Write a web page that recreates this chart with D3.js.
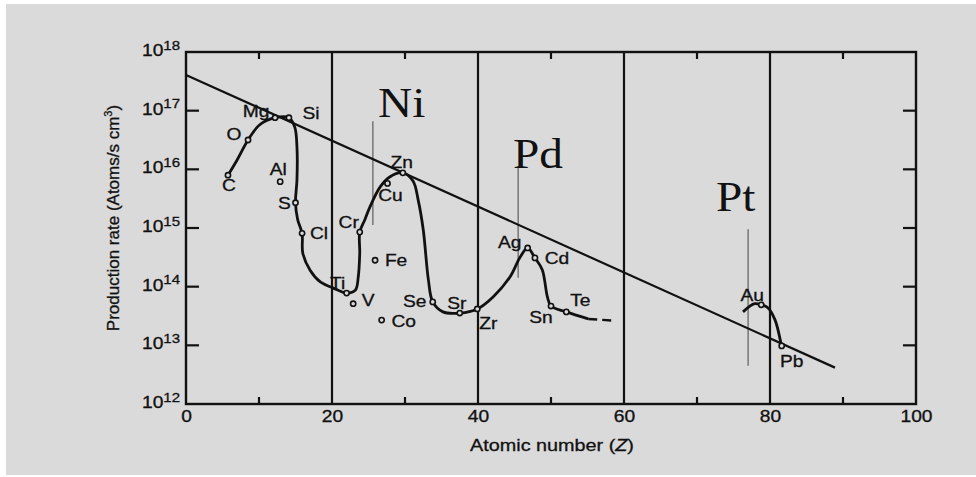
<!DOCTYPE html>
<html><head><meta charset="utf-8">
<script src="https://cdn.jsdelivr.net/npm/d3@7/dist/d3.min.js"></script>
<style>html,body{margin:0;padding:0;background:#fff;}svg{display:block;}</style>
</head><body>
<script>
// ---- data (Z, log10 production rate) ----
const xTicks = [0, 20, 40, 60, 80, 100];
const xMinorTicks = [10, 30, 50, 70, 90];
const yExponents = [12, 13, 14, 15, 16, 17, 18];
const sectionLines = [20, 40, 60, 80];
// main smooth curve, C .. Te
const mainCurve = [
  [5.75,15.90],[7.0,16.16],[8.5,16.50],[10.1,16.76],[12.2,16.88],[14.1,16.88],
  [14.9,16.72],[15.2,16.38],[15.2,15.82],[15.0,15.43],[15.3,15.14],[15.9,14.91],
  [16.0,14.57],[17.0,14.28],[18.4,14.08],[20.1,13.98],[22.0,13.89],[23.2,13.94],
  [23.6,14.17],[23.8,14.57],[23.8,14.93],[24.5,15.14],[25.2,15.36],[26.6,15.70],
  [27.9,15.87],[29.7,15.94],[31.1,15.80],[31.8,15.48],[32.5,14.97],[33.2,14.12],
  [33.8,13.74],[35.2,13.57],[37.5,13.55],[39.9,13.62],[42.1,13.83],[44.4,14.17],
  [45.8,14.51],[46.8,14.66],[47.8,14.49],[48.8,14.29],[49.5,13.83],[50.0,13.67],
  [52.1,13.57],[55.1,13.45]
];
const dashedTail = [[55.1,13.45],[58.8,13.42]];
const auCurve = [[76.3,13.57],[77.9,13.71],[78.8,13.69],[79.7,13.64],[80.7,13.43],[81.5,13.04],[81.6,12.99]];
const fitLine = [[0,17.61],[88.9,12.62]];
// element markers: name, Z, log rate, label dx, label dy
const elemNames  = ["C","O","Mg","Si","Al","S","Cl","Cr","Zn","Cu","Fe","Ti","V","Co","Se","Sr","Zr","Ag","Cd","Sn","Te","Au","Pb"];
const elemZ      = [5.75,8.5,12.2,14.1,12.9,15.0,15.9,23.8,29.7,27.6,25.9,22.0,22.9,26.8,33.8,37.5,39.9,46.8,47.8,50.0,52.1,78.8,81.6];
const elemLog    = [15.90,16.50,16.88,16.88,15.79,15.43,14.91,14.93,15.94,15.76,14.45,13.89,13.71,13.43,13.74,13.55,13.62,14.66,14.49,13.67,13.57,13.69,12.99];
const labelDX    = [1,-14,-19,22,-2,-11,17,-11,-1,3,21,-9,15,22,-18,-3,11,-18,22,-10,14,-9,10];
const labelDY    = [10,-6,-6,-4,-12,1,0,-10,-10,12,0,-10,-3,1,-1,-10,14,-6,0,11,-11,-9,15];
// thin marker lines for Ni, Pd, Pt: Z, log top, log bottom
const metalNames = ["Ni","Pd","Pt"];
const metalZ     = [25.6, 45.5, 77.0];
const metalTop   = [16.82, 16.04, 14.98];
const metalBot   = [15.05, 14.15, 12.65];
const metalLabelZ   = [26.3, 44.8, 72.6];
const metalLabelLog = [16.89, 16.02, 15.29];

const W = 976, H = 477;
const svg = d3.select("body").append("svg").attr("width", W).attr("height", H);
svg.append("rect").attr("width", W).attr("height", H).attr("fill", "#ffffff");
svg.append("rect").attr("x", 6).attr("y", 4).attr("width", W - 6).attr("height", H - 6).attr("fill", "#dadada");

const x = d3.scaleLinear().domain([0, 100]).range([186, 916]);
const y = d3.scaleLinear().domain([12, 18]).range([404, 52]);
const ink = "#111";
const sans = "'Liberation Sans', Arial, sans-serif";
const serif = "'Liberation Serif', 'Times New Roman', serif";
const SX = 1.2; // horizontal stretch of the scanned figure's lettering

const g = svg.append("g");

// section vertical lines
g.selectAll(".sec").data(sectionLines).join("line")
  .attr("x1", d => x(d)).attr("x2", d => x(d)).attr("y1", y(18)).attr("y2", y(12))
  .attr("stroke", ink).attr("stroke-width", 2.2);

// frame
g.append("rect").attr("x", x(0)).attr("y", y(18)).attr("width", x(100) - x(0)).attr("height", y(12) - y(18))
  .attr("fill", "none").attr("stroke", ink).attr("stroke-width", 2.4);

// axes with d3 axes
const axB = d3.axisBottom(x).tickValues(xTicks).tickSize(0).tickPadding(7).tickFormat(d3.format("d"));
const gB = g.append("g").attr("transform", `translate(0,${y(12)})`).call(axB);
gB.select(".domain").remove();
gB.selectAll("text").attr("font-family", sans).attr("font-size", 16).attr("fill", ink)
  .attr("stroke", ink).attr("stroke-width", 0.3).attr("transform", `scale(${SX},1)`);

const axL = d3.axisLeft(y).tickValues(yExponents).tickSize(0).tickPadding(7).tickFormat("");
const gL = g.append("g").attr("transform", `translate(${x(0)},0)`).call(axL);
gL.select(".domain").remove();
gL.selectAll(".tick").each(function(d) {
  const t = d3.select(this).append("text").attr("x", -5).attr("dy", "0.35em")
    .attr("text-anchor", "end").attr("font-family", sans).attr("fill", ink)
    .attr("stroke", ink).attr("stroke-width", 0.3).attr("transform", `scale(${SX},1)`);
  t.append("tspan").attr("font-size", 16).text("10");
  t.append("tspan").attr("font-size", 12.5).attr("dy", "-0.5em").text(d);
});

// inward ticks
g.selectAll(".lt").data(yExponents.slice(1, -1)).join("line")
  .attr("x1", x(0)).attr("x2", x(0) + 13).attr("y1", d => y(d)).attr("y2", d => y(d))
  .attr("stroke", ink).attr("stroke-width", 2.2);
g.selectAll(".rt").data(yExponents.slice(1, -1)).join("line")
  .attr("x1", x(100)).attr("x2", x(100) - 13).attr("y1", d => y(d)).attr("y2", d => y(d))
  .attr("stroke", ink).attr("stroke-width", 2.2);
g.selectAll(".tt").data(xMinorTicks).join("line")
  .attr("x1", d => x(d)).attr("x2", d => x(d)).attr("y1", y(18)).attr("y2", y(18) + 7)
  .attr("stroke", ink).attr("stroke-width", 2.2);
g.selectAll(".bt").data(xMinorTicks).join("line")
  .attr("x1", d => x(d)).attr("x2", d => x(d)).attr("y1", y(12)).attr("y2", y(12) - 7)
  .attr("stroke", ink).attr("stroke-width", 2.2);

// axis titles
svg.append("text").attr("transform", `translate(552,451) scale(${SX},1)`).attr("text-anchor", "middle")
  .attr("font-family", sans).attr("font-size", 16.5).attr("fill", ink).attr("stroke", ink).attr("stroke-width", 0.3)
  .html("Atomic number (<tspan font-style='italic'>Z</tspan>)");
const yt = svg.append("text").attr("transform", "translate(119,218) rotate(-90)").attr("text-anchor", "middle")
  .attr("font-family", sans).attr("font-size", 17).attr("fill", ink).attr("stroke", ink).attr("stroke-width", 0.3);
yt.append("tspan").text("Production rate (Atoms/s cm");
yt.append("tspan").attr("font-size", 11).attr("dy", "-0.6em").text("3");
yt.append("tspan").attr("dy", "0.4em").text(")");

// thin gray metal lines
g.selectAll(".ml").data(metalZ).join("line")
  .attr("x1", d => x(d)).attr("x2", d => x(d))
  .attr("y1", (d, i) => y(metalTop[i])).attr("y2", (d, i) => y(metalBot[i]))
  .attr("stroke", "#666").attr("stroke-width", 1.3);
g.selectAll(".mt").data(metalNames).join("text")
  .attr("transform", (d, i) => `translate(${x(metalLabelZ[i])},${y(metalLabelLog[i])}) scale(1.1,1)`)
  .attr("text-anchor", "start").attr("font-family", serif).attr("font-size", 43).attr("fill", ink)
  .text(d => d);

// fit line
const line = d3.line().x(d => x(d[0])).y(d => y(d[1]));
g.append("path").attr("d", line(fitLine)).attr("fill", "none").attr("stroke", ink).attr("stroke-width", 2.2);

// curves
const smooth = d3.line().x(d => x(d[0])).y(d => y(d[1])).curve(d3.curveCatmullRom.alpha(0.5));
g.append("path").attr("d", smooth(mainCurve)).attr("fill", "none").attr("stroke", ink).attr("stroke-width", 2.8);
g.append("path").attr("d", line(dashedTail)).attr("fill", "none").attr("stroke", ink).attr("stroke-width", 2.4)
  .attr("stroke-dasharray", "9,5");
g.append("path").attr("d", smooth(auCurve)).attr("fill", "none").attr("stroke", ink).attr("stroke-width", 2.8);

// markers and labels
const elems = elemNames.map((n, i) => ({ n, z: elemZ[i], v: elemLog[i], dx: labelDX[i], dy: labelDY[i] }));
g.selectAll(".mk").data(elems).join("circle")
  .attr("cx", d => x(d.z)).attr("cy", d => y(d.v)).attr("r", 2.6)
  .attr("fill", "#dadada").attr("stroke", ink).attr("stroke-width", 1.6);
g.selectAll(".el").data(elems).join("text")
  .attr("transform", d => `translate(${x(d.z) + d.dx},${y(d.v) + d.dy}) scale(${SX},1)`)
  .attr("dy", "0.35em")
  .attr("text-anchor", "middle").attr("font-family", sans).attr("font-size", 16).attr("fill", ink)
  .attr("stroke", ink).attr("stroke-width", 0.3)
  .text(d => d.n);
</script>
</body></html>
